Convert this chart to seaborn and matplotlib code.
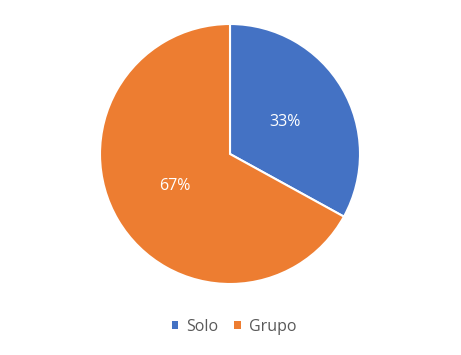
import matplotlib
matplotlib.use("Agg")
import matplotlib.pyplot as plt
import seaborn as sns
from matplotlib.patches import Patch

categories = ["Solo", "Grupo"]
values = [33, 67]
colors = ["#4472C4", "#ED7D31"]

sns.set_theme(style="white")
plt.rcParams['font.family'] = ['Open Sans', 'DejaVu Sans']

fig = plt.figure(figsize=(4.61, 3.55), dpi=100)
ax = fig.add_axes([100/461, 71/355, 260/461, 260/355])
wedges, texts, autotexts = ax.pie(
    values, colors=colors, startangle=90, counterclock=False,
    radius=1, autopct='%1.0f%%', pctdistance=0.49,
    wedgeprops=dict(edgecolor='white', linewidth=1.5),
    textprops=dict(color='white', fontsize=11.5))
ax.set_xlim(-1.0, 1.0)
ax.set_ylim(-1.0, 1.0)
ax.set_aspect('auto')
ax.axis('off')

handles = [Patch(facecolor=c, edgecolor='none') for c in colors]
fig.legend(handles, categories, loc='center', bbox_to_anchor=(0.508, 0.08),
           ncol=2, frameon=False, fontsize=11.5, handlelength=0.42, handleheight=0.42,
           handletextpad=0.5, columnspacing=1.0, labelcolor='#595959')

fig.savefig("out.png", dpi=100)
